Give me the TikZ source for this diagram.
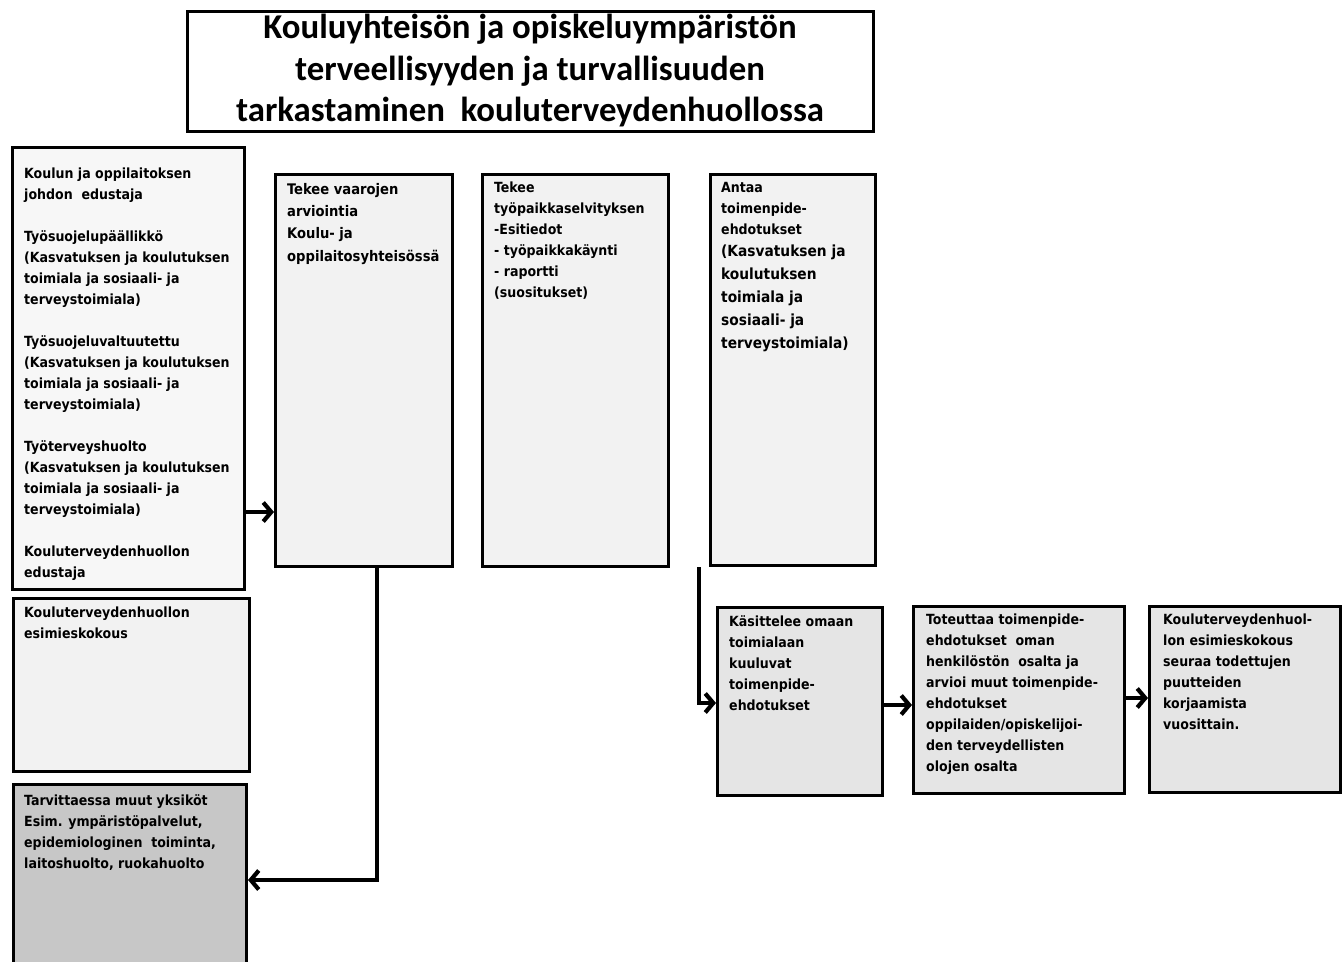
\documentclass[tikz,border=0pt]{standalone}
\usepackage{fontspec}
\setmainfont{Carlito}
\newfontfamily\boxfont{DejaVu Sans Condensed}
\usetikzlibrary{arrows.meta,calc}
\tikzset{
  box/.style={draw=black, line width=3pt, rectangle, inner sep=0pt, anchor=north west},
  txt/.style={anchor=north west, inner sep=0pt, align=left, font=\boxfont\fontsize{14}{21}\selectfont\bfseries},
  arr/.style={line width=3.2pt, -{Straight Barb[length=8pt,width=19pt,line width=4.2pt]}},
}
\begin{document}
\begin{tikzpicture}[x=1pt,y=-1pt]
\clip (0,0) rectangle (1343,961);
\fill[white] (0,0) rectangle (1343,961);
% title
\node[box, anchor=center, fill=white, minimum width=686pt, minimum height=120pt,
  align=center, font=\fontsize{34.8}{41.5}\selectfont\bfseries] (T) at (530,71)
  {Kouluyhteisön ja opiskeluympäristön\\terveellisyyden ja turvallisuuden\\tarkastaminen\ \ kouluterveydenhuollossa};
% left column
\node[box, fill=black!3, minimum width=232pt, minimum height=442pt] (A) at (11,146) {};
\node[txt] (At) at (24,168) {Koulun ja oppilaitoksen\\johdon\ \ edustaja\\[21pt]
Työsuojelupäällikkö\\(Kasvatuksen ja koulutuksen\\toimiala ja sosiaali- ja\\terveystoimiala)\\[21pt]
Työsuojeluvaltuutettu\\(Kasvatuksen ja koulutuksen\\toimiala ja sosiaali- ja\\terveystoimiala)\\[21pt]
Työterveyshuolto\\(Kasvatuksen ja koulutuksen\\toimiala ja sosiaali- ja\\terveystoimiala)\\[21pt]
Kouluterveydenhuollon\\edustaja};
\node[box, fill=black!5, minimum width=236pt, minimum height=173pt] (B) at (12,597) {};
\node[txt] (Bt) at (24,607) {Kouluterveydenhuollon\\esimieskokous};
\node[box, fill=black!22, minimum width=233pt, minimum height=200pt] (C) at (12,783) {};
\node[txt] (Ct) at (24,794) {Tarvittaessa muut yksiköt\\Esim. ympäristöpalvelut,\\epidemiologinen\ \ toiminta,\\laitoshuolto, ruokahuolto};
% top row
\node[box, fill=black!5, minimum width=177pt, minimum height=392pt] (D) at (274,173) {};
\node[txt, font=\boxfont\fontsize{14.6}{22.3}\selectfont\bfseries] (Dt) at (287,183) {Tekee vaarojen\\arviointia\\Koulu- ja\\oppilaitosyhteisössä};
\node[box, fill=black!5, minimum width=186pt, minimum height=392pt] (E) at (481,173) {};
\node[txt] (Et) at (494,182) {Tekee\\työpaikkaselvityksen\\-Esitiedot\\- työpaikkakäynti\\- raportti\\(suositukset)};
\node[box, fill=black!5, minimum width=165pt, minimum height=391pt] (F) at (709,173) {};
\node[txt] (Ft) at (721,182) {Antaa\\toimenpide-\\ehdotukset};
\node[txt, font=\boxfont\fontsize{15.3}{23}\selectfont\bfseries] (Ft2) at (721,245) {(Kasvatuksen ja\\koulutuksen\\toimiala ja\\sosiaali- ja\\terveystoimiala)};
% bottom row
\node[box, fill=black!10, minimum width=165pt, minimum height=188pt] (G) at (716,606) {};
\node[txt] (Gt) at (729,615) {Käsittelee omaan\\toimialaan\\kuuluvat\\toimenpide-\\ehdotukset};
\node[box, fill=black!10, minimum width=211pt, minimum height=187pt] (H) at (912,605) {};
\node[txt] (Ht) at (926,614) {Toteuttaa toimenpide-\\ehdotukset\ \ oman\\henkilöstön\ \ osalta ja\\arvioi muut toimenpide-\\ehdotukset\\oppilaiden/opiskelijoi-\\den terveydellisten\\olojen osalta};
\node[box, fill=black!10, minimum width=191pt, minimum height=186pt] (I) at (1148,605) {};
\node[txt] (It) at (1163,614) {Kouluterveydenhuol-\\lon esimieskokous\\seuraa todettujen\\puutteiden\\korjaamista\\vuosittain.};
% connectors
\coordinate (y1) at (0,512);
\coordinate (y2) at (0,880);
\coordinate (y3) at (0,703);
\coordinate (y4) at (0,705);
\coordinate (y5) at (0,698);
\draw[arr] (A.east |- y1) -- (D.west |- y1);
\draw[arr] ([xshift=13pt]D.south) |- (C.east |- y2);
\draw[arr] ([xshift=-10pt]F.south west) |- (G.west |- y3);
\draw[arr] (G.east |- y4) -- (H.west |- y4);
\draw[arr] (H.east |- y5) -- (I.west |- y5);
\end{tikzpicture}
\end{document}
